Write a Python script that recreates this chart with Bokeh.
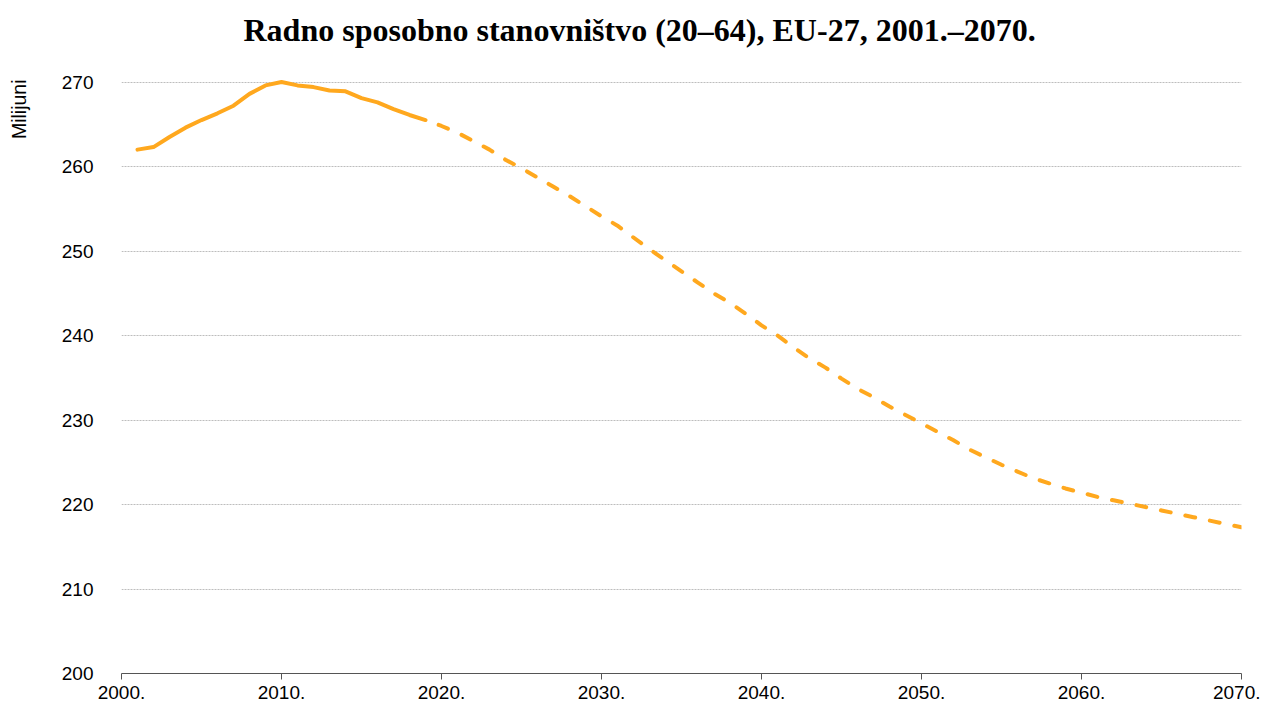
from bokeh.plotting import figure
from bokeh.models import FixedTicker, Range1d, Title
from bokeh.embed import file_html
from bokeh.resources import INLINE

# Historical (solid) 2001-2019, millions
hist_years = list(range(2001, 2020))
hist_values = [262.0, 262.3, 263.5, 264.6, 265.5, 266.3, 267.2, 268.6, 269.6, 270.0,
               269.6, 269.4, 269.0, 268.9, 268.1, 267.6, 266.8, 266.1, 265.5]

# Projection (dashed) 2019-2070
proj_years = list(range(2019, 2071))
proj_values = [265.5, 264.8, 264.0, 263.0, 262.0, 260.8, 259.8, 258.7, 257.6, 256.5,
               255.3, 254.1, 253.0, 251.6, 250.2, 248.9, 247.6, 246.3, 245.0, 243.9,
               242.6, 241.2, 240.0, 238.6, 237.3, 236.2, 234.9, 233.7, 232.7, 231.6,
               230.6, 229.6, 228.6, 227.6, 226.5, 225.6, 224.7, 223.9, 223.1, 222.5,
               221.9, 221.4, 220.9, 220.5, 220.1, 219.7, 219.3, 218.9, 218.5, 218.1,
               217.7, 217.3]

x_ticks = [2000, 2010, 2020, 2030, 2040, 2050, 2060, 2070]
x_tick_labels = ["2000.", "2010.", "2020.", "2030.", "2040.", "2050.", "2060.", "2070."]
y_ticks = [200, 210, 220, 230, 240, 250, 260, 270]

title_text = "Radno sposobno stanovništvo (20–64), EU-27, 2001.–2070."
y_label_text = "Milijuni"

LINE_COLOR = "#ffa81e"

p = figure(width=1260, height=706, output_backend="svg", toolbar_location=None,
           x_range=Range1d(2000, 2070), y_range=Range1d(200, 270.3),
           min_border_left=121, min_border_right=19, min_border_top=79, min_border_bottom=33)
p.outline_line_color = None
p.background_fill_color = "white"
p.border_fill_color = "white"

p.line(hist_years, hist_values, line_color=LINE_COLOR, line_width=4, line_cap="round", line_join="round")
p.line(proj_years, proj_values, line_color=LINE_COLOR, line_width=4, line_cap="round",
       line_dash="10 15", line_dash_offset=-14)

# Axes
p.xaxis.ticker = FixedTicker(ticks=x_ticks)
p.xaxis.major_label_overrides = {t: l for t, l in zip(x_ticks, x_tick_labels)}
p.xaxis.axis_line_color = "#555555"
p.xaxis.major_tick_line_color = "#555555"
p.xaxis.major_tick_out = 6
p.xaxis.major_tick_in = 0
p.xaxis.minor_tick_line_color = None
p.xaxis.major_label_text_font = "Liberation Sans"
p.xaxis.major_label_text_font_size = "19px"
p.xaxis.major_label_text_color = "#000000"
p.xaxis.major_label_standoff = 6

p.yaxis.ticker = FixedTicker(ticks=y_ticks)
p.yaxis.axis_line_color = None
p.yaxis.major_tick_line_color = None
p.yaxis.minor_tick_line_color = None
p.yaxis.major_label_text_font = "Liberation Sans"
p.yaxis.major_label_text_font_size = "19px"
p.yaxis.major_label_text_color = "#000000"
p.yaxis.major_label_standoff = 22

p.xgrid.grid_line_color = None
p.ygrid.grid_line_color = "#bdbdbd"
p.ygrid.grid_line_dash = "2 1"
p.ygrid.grid_line_width = 1

# Spacers (tiny blank titles) to push the real titles outwards
p.add_layout(Title(text=" ", text_font_size="1px", standoff=29), "above")
p.add_layout(Title(text=title_text, align="left", offset=122, standoff=0,
                   text_font="Liberation Serif", text_font_style="bold",
                   text_font_size="32px", text_color="#000000"), "above")

p.add_layout(Title(text=" ", text_font_size="1px", standoff=26), "left")
p.add_layout(Title(text=y_label_text, align="right", standoff=0, text_font="Liberation Sans",
                   text_font_style="normal", text_font_size="19.5px", text_color="#000000"), "left")

open("out.html", "w").write(file_html(p, INLINE))
